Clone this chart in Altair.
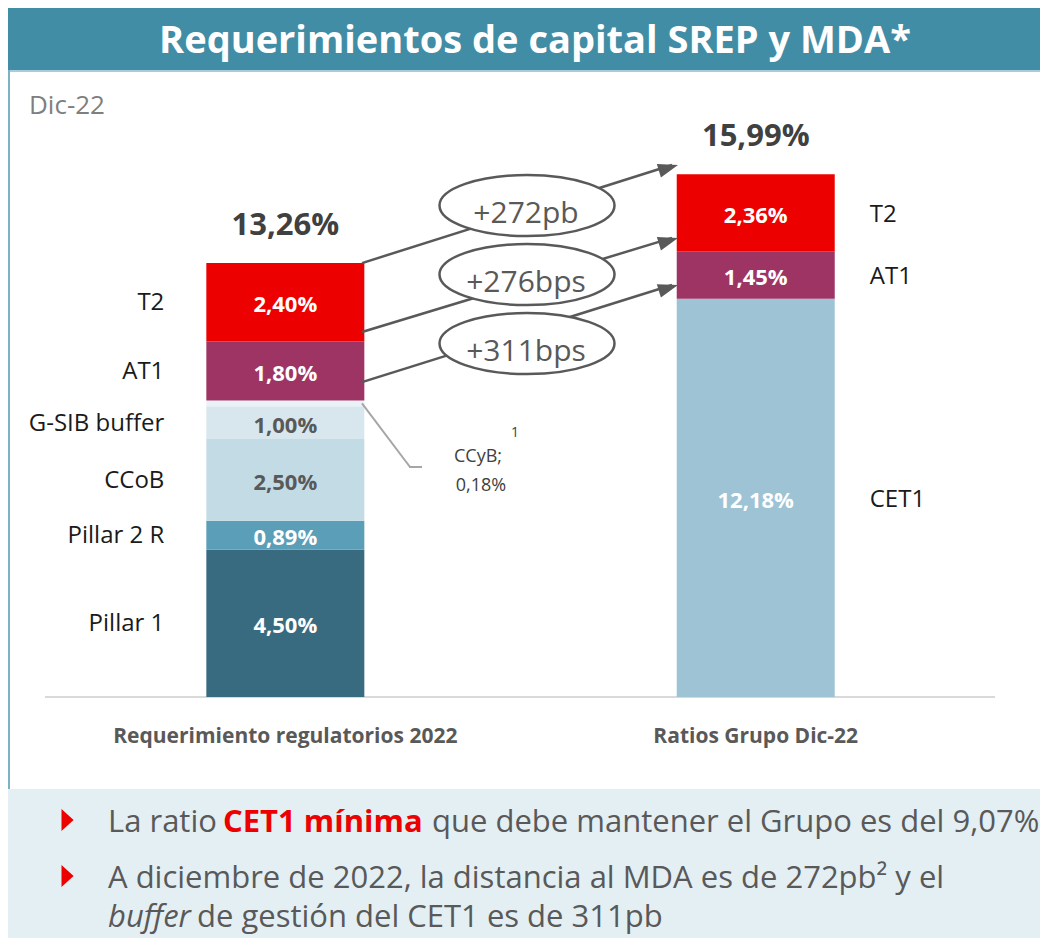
import altair as alt
import pandas as pd

W, H = 1032, 930
FONT = "Open Sans"
GREY = "#595959"

# ---------------- data ----------------
bar_names = ["Requerimiento regulatorios 2022", "Ratios Grupo Dic-22"]
bar_totals = ["13,26%", "15,99%"]

left_components = ["Pillar 1", "Pillar 2 R", "CCoB", "G-SIB buffer", "CCyB", "AT1", "T2"]
left_values = [4.50, 0.89, 2.50, 1.00, 0.18, 1.80, 2.40]

right_components = ["CET1", "AT1", "T2"]
right_values = [12.18, 1.45, 2.36]

component_order = ["Pillar 1", "Pillar 2 R", "CCoB", "G-SIB buffer", "CCyB", "AT1", "T2", "CET1"]
component_colors = ["#396B80", "#5B9EB8", "#C3DBE5", "#D8E7EE", "#E9F2F6", "#9E3464", "#EC0000", "#9DC3D5"]
dark_label_components = ["G-SIB buffer", "CCoB"]

change_labels = ["+272pb", "+276bps", "+311bps"]
change_from = [13.27, 11.16, 9.63]
change_to = [16.27, 14.04, 12.60]
change_mid = [15.03, 12.92, 10.81]

footer_line1 = ["La ratio", "CET1 mínima", "que debe mantener el Grupo es del 9,07%"]
footer_line2 = "A diciembre de 2022, la distancia al MDA es de 272pb² y el"
footer_line3 = ["buffer", "de gestión del CET1 es de 311pb"]


def fmt(v):
    return f"{v:.2f}".replace(".", ",") + "%"


rows = []
for b, (comps, vals) in enumerate([(left_components, left_values), (right_components, right_values)]):
    cum = 0.0
    for c, v in zip(comps, vals):
        rows.append(dict(bar=b, component=c, value=v, y0=cum, y1=cum + v,
                         mid=cum + v / 2, label=fmt(v)))
        cum += v
seg = pd.DataFrame(rows)

totals = pd.DataFrame({
    "bar": [0, 1],
    "name": bar_names,
    "total": [sum(left_values), sum(right_values)],
    "label": bar_totals,
})

changes = pd.DataFrame({"label": change_labels, "from": change_from,
                        "to": change_to, "mid": change_mid})
one = pd.DataFrame({"k": [0]})
zero = pd.DataFrame({"y": [0.0]})

# ---------------- scales ----------------
PX_PER_X = 475.0
X0_PX = 275.0
PX_PER_PCT = 32.7
BASE_PX = 689.0
x_scale = alt.Scale(domain=[-X0_PX / PX_PER_X, (W - X0_PX) / PX_PER_X], nice=False, zero=False)
y_scale = alt.Scale(domain=[-(H - BASE_PX) / PX_PER_PCT, BASE_PX / PX_PER_PCT], nice=False, zero=False)
X = lambda f: alt.X(f, type="quantitative", scale=x_scale, axis=None)
Y = lambda f: alt.Y(f, type="quantitative", scale=y_scale, axis=None)

# ---------------- decoration ----------------
banner = alt.Chart(one).mark_rect(color="#418DA6").encode(
    x=alt.value(0), x2=alt.value(W), y=alt.value(0), y2=alt.value(62))
banner_line = alt.Chart(one).mark_rule(color="#A9CCDA", strokeWidth=2).encode(
    x=alt.value(0), x2=alt.value(W), y=alt.value(63))
title = alt.Chart(one).mark_text(font=FONT, fontSize=38, fontWeight="bold", color="white",
                                 align="center", baseline="alphabetic").encode(
    x=alt.value(527), y=alt.value(45), text=alt.value("Requerimientos de capital SREP y MDA*"))
left_border = alt.Chart(one).mark_rule(color="#7DB1C4", strokeWidth=2).encode(
    x=alt.value(1), y=alt.value(62), y2=alt.value(781))
dic = alt.Chart(one).mark_text(font=FONT, fontSize=26, color="#7F7F7F", align="left",
                               baseline="alphabetic").encode(
    x=alt.value(21), y=alt.value(106), text=alt.value("Dic-22"))

# ---------------- bars ----------------
baseline = alt.Chart(zero).mark_rule(color="#D9D9D9", strokeWidth=2).encode(
    x=alt.value(37), x2=alt.value(987), y=Y("y"))

bars = alt.Chart(seg).mark_bar(size=158).encode(
    x=X("bar"), y=Y("y0"), y2=alt.Y2("y1"),
    color=alt.Color("component:N", scale=alt.Scale(domain=component_order, range=component_colors),
                    legend=None))

value_labels = alt.Chart(seg).transform_filter("datum.component != 'CCyB'").mark_text(
    font=FONT, fontSize=22, fontWeight="bold", align="center", baseline="alphabetic", dy=10).encode(
    x=X("bar"), y=Y("mid"), text="label:N",
    color=alt.when(alt.FieldOneOfPredicate(field="component", oneOf=dark_label_components))
    .then(alt.value(GREY)).otherwise(alt.value("#FFFFFF")))

left_names = alt.Chart(seg).transform_filter("datum.bar == 0 && datum.component != 'CCyB'").mark_text(
    font=FONT, fontSize=24, color="#1A1A1A", align="right", baseline="alphabetic", dx=-121, dy=8).encode(
    x=X("bar"), y=Y("mid"), text="component:N")

right_names = alt.Chart(seg).transform_filter("datum.bar == 1").mark_text(
    font=FONT, fontSize=24, color="#1A1A1A", align="left", baseline="alphabetic", dx=114, dy=9).encode(
    x=X("bar"), y=Y("mid"), text="component:N")

total_labels = alt.Chart(totals).mark_text(
    font=FONT, fontSize=31, fontWeight="bold", color="#404040", align="center",
    baseline="alphabetic", dy=-28).encode(x=X("bar"), y=Y("total"), text="label:N")

cat_labels = alt.Chart(totals).mark_text(
    font=FONT, fontSize=21, fontWeight="bold", color=GREY, align="center",
    baseline="alphabetic").encode(x=X("bar"), y=alt.value(735), text="name:N")

# ---------------- arrows & ellipses ----------------
arrow_lines = alt.Chart(changes).mark_rule(color=GREY, strokeWidth=2.5, strokeCap="butt").encode(
    x=alt.value(354), x2=alt.value(664), y=Y("from"), y2=alt.Y2("to"))
arrow_heads = alt.Chart(changes).mark_point(
    shape="M0,0L-2,-0.7L-2,0.7Z", size=400, angle=343, filled=True, color=GREY, opacity=1).encode(
    x=alt.value(670), y=Y("to"))
ELLIPSE = ("M-1,0C-1,-0.193 -0.552,-0.349 0,-0.349C0.552,-0.349 1,-0.193 1,0"
           "C1,0.193 0.552,0.349 0,0.349C-0.552,0.349 -1,0.193 -1,0Z")
ellipses = alt.Chart(changes).mark_point(
    shape=ELLIPSE, size=175 * 175, filled=True, fill="white", stroke=GREY, strokeWidth=2.5,
    opacity=1, fillOpacity=1).encode(x=alt.value(519), y=Y("mid"))
ellipse_text = alt.Chart(changes).mark_text(
    font=FONT, fontSize=30, color=GREY, align="center", baseline="alphabetic", dy=17).encode(
    x=alt.value(518), y=Y("mid"), text="label:N")

# ---------------- CCyB callout ----------------
ccyb = seg[seg.component == "CCyB"]
call1 = alt.Chart(ccyb).mark_rule(color="#A6A6A6", strokeWidth=2).encode(
    x=alt.value(354), y=Y("mid"), x2=alt.value(402), y2=alt.value(459))
call2 = alt.Chart(one).mark_rule(color="#A6A6A6", strokeWidth=2).encode(
    x=alt.value(401), x2=alt.value(414), y=alt.value(459))
ccyb_name = alt.Chart(one).mark_text(font=FONT, fontSize=18, color="#404040", align="center",
                                     baseline="alphabetic").encode(
    x=alt.value(470), y=alt.value(454), text=alt.value("CCyB;"))
ccyb_val = alt.Chart(ccyb).mark_text(font=FONT, fontSize=18, color="#404040", align="center",
                                     baseline="alphabetic").encode(
    x=alt.value(473), y=alt.value(483), text="label:N")
ccyb_note = alt.Chart(one).mark_text(font=FONT, fontSize=14, color="#404040", align="center",
                                     baseline="alphabetic").encode(
    x=alt.value(507), y=alt.value(429), text=alt.value("1"))

# ---------------- footer ----------------
footer_box = alt.Chart(one).mark_rect(color="#E4EFF4").encode(
    x=alt.value(0), x2=alt.value(W), y=alt.value(781), y2=alt.value(H))
TRI = "M-0.5,-1L0.6,0L-0.5,1Z"
bullet1 = alt.Chart(one).mark_point(shape=TRI, size=484, filled=True, color="#EC0000", opacity=1).encode(
    x=alt.value(59), y=alt.value(812))
bullet2 = alt.Chart(one).mark_point(shape=TRI, size=484, filled=True, color="#EC0000", opacity=1).encode(
    x=alt.value(59), y=alt.value(868))


def ftext(txt, x, y, color=GREY, weight="normal", style="normal"):
    return alt.Chart(one).mark_text(font=FONT, fontSize=31, color=color, fontWeight=weight,
                                    fontStyle=style, align="left", baseline="alphabetic").encode(
        x=alt.value(x), y=alt.value(y), text=alt.value(txt))


f1a = ftext(footer_line1[0], 100, 824)
f1b = ftext(footer_line1[1], 215, 824, color="#EC0000", weight="bold")
f1c = ftext(footer_line1[2], 424, 824)
f2 = ftext(footer_line2, 100, 880)
f3a = ftext(footer_line3[0], 100, 919, style="italic")
f3b = ftext(footer_line3[1], 189, 919)

chart = alt.layer(
    banner, banner_line, title, left_border, dic,
    baseline, bars, value_labels, left_names, right_names, total_labels, cat_labels,
    arrow_lines, ellipses, ellipse_text, arrow_heads,
    call1, call2, ccyb_name, ccyb_val, ccyb_note,
    footer_box, bullet1, bullet2, f1a, f1b, f1c, f2, f3a, f3b,
).properties(
    width=W, height=H, padding=0, autosize=alt.AutoSizeParams(type="none"), background="white"
).configure_view(stroke=None)

chart.save("out.html", embed_options={"renderer": "svg", "actions": False})
